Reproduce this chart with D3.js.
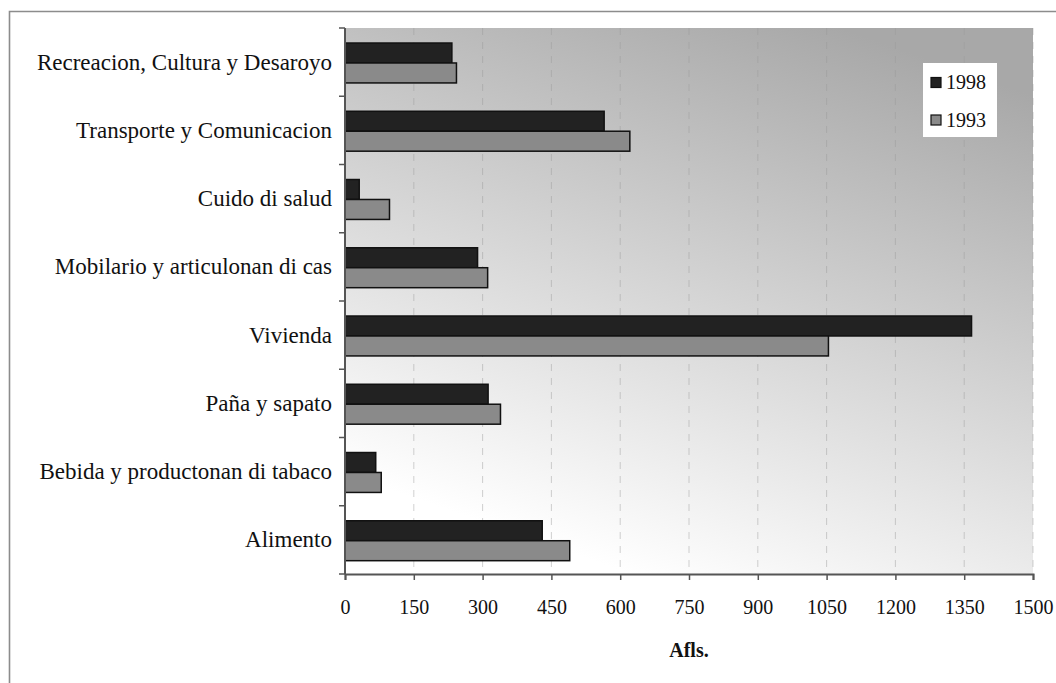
<!DOCTYPE html>
<html><head><meta charset="utf-8">
<script src="https://cdn.jsdelivr.net/npm/d3@7"></script>
<style>
html,body{margin:0;padding:0;background:#fff;}
svg{display:block;}
svg text{font-family:"Liberation Serif","Times New Roman",serif;}
</style></head>
<body>
<svg id="chart" width="1056" height="683"></svg>
<script>
const categories = [
  "Recreacion, Cultura y Desaroyo",
  "Transporte y Comunicacion",
  "Cuido di salud",
  "Mobilario y articulonan di cas",
  "Vivienda",
  "Paña y sapato",
  "Bebida y productonan di tabaco",
  "Alimento"
];
const series = ["1998", "1993"];
const values1998 = [233, 565, 31, 289, 1366, 312, 67, 430];
const values1993 = [243, 621, 97, 311, 1054, 339, 79, 490];
const xTicks = [0,150,300,450,600,750,900,1050,1200,1350,1500];
const axisTitle = "Afls.";

const seriesValues = {"1998": values1998, "1993": values1993};
const colors = {"1998": "#222222", "1993": "#8a8a8a"};
const FONT = "Liberation Serif, Times New Roman, serif";

const svg = d3.select("#chart");
const L = 345, R = 1033, T = 28, B = 574;

// outer frame
svg.append("path").attr("d", `M9.5,683 V11.5 H1056`).attr("fill","none")
  .attr("stroke","#8c8c8c").attr("stroke-width",1.6);

const defs = svg.append("defs");
const grad = defs.append("linearGradient").attr("id","bg")
  .attr("x1",0.72).attr("y1",0).attr("x2",0.28).attr("y2",1);
grad.append("stop").attr("offset",0).attr("stop-color","#a8a8a8");
grad.append("stop").attr("offset",0.95).attr("stop-color","#ffffff");

const x = d3.scaleLinear().domain([0,1500]).range([L,R]);
const y = d3.scaleBand().domain(categories).range([T,B]).padding(0);
const bw = y.bandwidth();
const y1 = d3.scaleBand().domain(series).range([bw*0.22, bw*0.805]).padding(0);

svg.append("rect").attr("x",L).attr("y",T).attr("width",R-L).attr("height",B-T)
  .attr("fill","url(#bg)");

// gridlines
svg.append("g").selectAll("line").data(xTicks.slice(1)).join("line")
  .attr("x1",d=>x(d)).attr("x2",d=>x(d)).attr("y1",T).attr("y2",B)
  .attr("stroke","#9a9a9a").attr("stroke-opacity",0.45).attr("stroke-width",1)
  .attr("stroke-dasharray","7,7");

// bars
const rows = categories.map((c,i)=>({cat:c, vals: series.map(s=>({s, v: seriesValues[s][i]}))}));
const g = svg.append("g");
g.selectAll("g").data(rows).join("g")
  .attr("transform", d=>`translate(0,${y(d.cat)})`)
  .selectAll("rect").data(d=>d.vals).join("rect")
  .attr("x", x(0)).attr("y", d=>y1(d.s)).attr("height", y1.bandwidth())
  .attr("width", d=>x(d.v)-x(0))
  .attr("fill", d=>colors[d.s]).attr("stroke","#111").attr("stroke-width",1.5);

// left axis
const ya = svg.append("g").attr("transform",`translate(${L},0)`)
  .call(d3.axisLeft(y).tickSize(0).tickPadding(13));
ya.select(".domain").remove();
ya.selectAll("text").attr("font-family",FONT).attr("font-size",23).attr("fill","#111");
svg.append("g").selectAll("line").data(categories.map(c=>y(c)).concat([B])).join("line")
  .attr("x1",L-6).attr("x2",L).attr("y1",d=>d).attr("y2",d=>d)
  .attr("stroke","#555").attr("stroke-width",1.5);
svg.append("line").attr("x1",L).attr("x2",L).attr("y1",T).attr("y2",B)
  .attr("stroke","#555").attr("stroke-width",2);

// bottom axis
const xa = svg.append("g").attr("transform",`translate(0,${B})`)
  .call(d3.axisBottom(x).tickValues(xTicks).tickSize(6).tickPadding(20).tickFormat(d3.format("d")));
xa.select(".domain").attr("stroke","#555").attr("stroke-width",2);
xa.selectAll(".tick line").attr("stroke","#555").attr("stroke-width",1.5);
xa.selectAll("text").attr("font-family",FONT).attr("font-size",20).attr("fill","#111");

svg.append("text").attr("x",(L+R)/2).attr("y",657).attr("text-anchor","middle")
  .attr("font-family",FONT).attr("font-size",20).attr("font-weight","bold").attr("fill","#111").text(axisTitle);

// legend
const lg = svg.append("g");
lg.append("rect").attr("x",923).attr("y",63).attr("width",74).attr("height",74).attr("fill","#fff");
series.forEach((s,i)=>{
  const cy = 82.5 + i*37.5;
  lg.append("rect").attr("x",931).attr("y",cy-5).attr("width",10).attr("height",10)
    .attr("fill",colors[s]).attr("stroke","#111").attr("stroke-width",1.2);
  lg.append("text").attr("x",946).attr("y",cy+6.5).attr("font-family",FONT)
    .attr("font-size",20).attr("fill","#111").text(s);
});
</script>
</body></html>
